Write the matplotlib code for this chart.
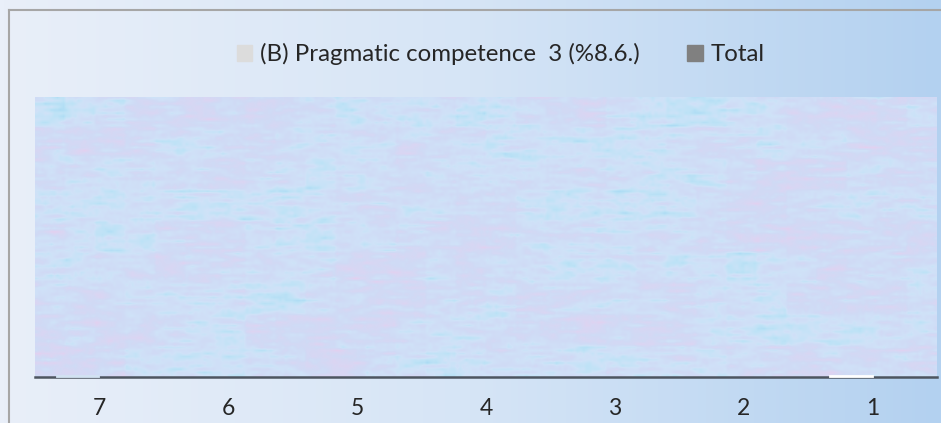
import numpy as np
import matplotlib.pyplot as plt
from matplotlib.colors import LinearSegmentedColormap
from matplotlib.patches import Rectangle

categories = ['7', '6', '5', '4', '3', '2', '1']
pragmatic = [0.5, 0, 0, 0, 0, 0, 0.5]
total = [0, 0, 0, 0, 0, 0, 0]
series_names = ['(B) Pragmatic competence  3 (%8.6.)', 'Total']

plt.rcParams['font.family'] = ['Lato', 'DejaVu Sans']


def hash_noise(nr, nc, seed):
    # deterministic value noise for the background texture
    ii, jj = np.meshgrid(np.arange(nc), np.arange(nr))
    v = np.sin(ii * 12.9898 + jj * 78.233 + seed * 37.719) * 43758.5453
    return v - np.floor(v)


def smooth_x(a, n):
    k = np.ones(n) / n
    pad = np.pad(a, ((0, 0), (n, n)), mode='wrap')
    return np.array([np.convolve(r, k, mode='same')[n:-n] for r in pad])


fig = plt.figure(figsize=(9.41, 4.23), dpi=100)

# background gradient of the chart area
bg = fig.add_axes([0, 0, 1, 1], zorder=-10)
grad = np.linspace(0, 1, 256).reshape(1, -1)
bg_cmap = LinearSegmentedColormap.from_list('bg', ['#e9eff9', '#d6e5f6', '#b3d1f0'])
bg.imshow(grad, cmap=bg_cmap, aspect='auto', extent=[0, 1, 0, 1])
bg.set_xlim(0, 1)
bg.set_ylim(0, 1)
bg.axis('off')
# frame line (left and top)
bg.plot([8.5 / 941, 8.5 / 941], [0, 1 - 10 / 423], color='#a6a6a6', lw=1.5)
bg.plot([8.5 / 941, 1], [1 - 10 / 423, 1 - 10 / 423], color='#a6a6a6', lw=1.5)

ax = fig.add_axes([35 / 941, 46 / 423, 902 / 941, 280 / 423])

# pastel streaky texture of the plot area
fine = smooth_x(hash_noise(90, 300, 1), 7)
coarse = np.kron(smooth_x(hash_noise(9, 30, 2), 3), np.ones((10, 10)))
tex = 0.6 * (fine - fine.min()) / (fine.max() - fine.min()) + 0.4 * coarse
tex_cmap = LinearSegmentedColormap.from_list(
    'tex', ['#aadbf4', '#bde2f6', '#cfe2f8', '#d0daf5', '#d9d6f3', '#e5cfef'])
ax.imshow(tex, cmap=tex_cmap, aspect='auto', interpolation='bilinear',
          extent=[-0.5, len(categories) - 0.5, 0, 100], zorder=0)

x = np.arange(len(categories))
w = 0.33
light_colors = ['#d2e2f2', '#d9d9d9', '#d9d9d9', '#d9d9d9', '#d9d9d9', '#d9d9d9', '#ffffff']
ax.bar(x - w / 2, pragmatic, w, color=light_colors, edgecolor=light_colors,
       linewidth=[1.3 if v > 0 else 0 for v in pragmatic],
       zorder=4, clip_on=False, label=series_names[0])
ax.bar(x + w / 2, total, w, color='#808080', linewidth=0, zorder=4, label=series_names[1])

ax.set_xlim(-0.5, len(categories) - 0.5)
ax.set_ylim(0, 100)
ax.set_xticks(x)
ax.set_xticklabels(categories, fontsize=16.5, color='#262626')
ax.tick_params(axis='x', length=0, pad=15)
ax.set_yticks([])
for s in ['top', 'right', 'left']:
    ax.spines[s].set_visible(False)
ax.spines['bottom'].set_color('#4d5560')
ax.spines['bottom'].set_linewidth(1.8)

handles = [Rectangle((0, 0), 1, 1, color='#dcdcdc'), Rectangle((0, 0), 1, 1, color='#808080')]
fig.legend(handles, series_names, loc='center', bbox_to_anchor=(0.532, 1 - 54 / 423),
           ncol=2, frameon=False, fontsize=17.3, handlelength=0.65, handleheight=0.65,
           handletextpad=0.3, columnspacing=2.0, labelcolor='#262626')

fig.savefig('out.png', dpi=100)
